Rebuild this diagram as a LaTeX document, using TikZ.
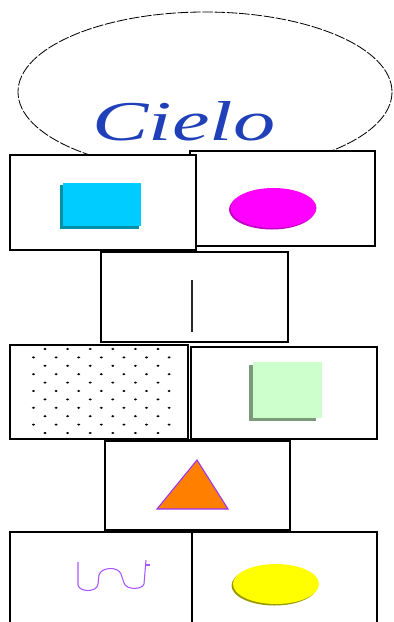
\documentclass[tikz,border=0pt]{standalone}
\usepackage{fontspec}
\setmainfont{Liberation Serif}
\usepackage{tikz}
\usetikzlibrary{calc}
\definecolor{azulcielo}{HTML}{1F40B8}
\definecolor{cian}{HTML}{00CCFF}
\definecolor{cianosc}{HTML}{008FA8}
\definecolor{rosa}{HTML}{FF00FF}
\definecolor{rosaosc}{HTML}{C000C0}
\definecolor{verdeclaro}{HTML}{CCFFCC}
\definecolor{verdeosc}{HTML}{7A9A7A}
\definecolor{naranja}{HTML}{FF8000}
\definecolor{morado}{HTML}{9933FF}
\definecolor{lila}{HTML}{A855FF}
\definecolor{amarillo}{HTML}{FFFF00}
\definecolor{amarilloosc}{HTML}{9A9A00}

\begin{document}
\begin{tikzpicture}[x=0.03cm,y=-0.03cm,
  casilla/.style={draw=black,fill=white,line width=1pt},
  grueso/.style={line width=2.4pt,line cap=rect},
  punto/.style={fill=black}]
\useasboundingbox (0,0) rectangle (393,622);
\clip (0,0) rectangle (393,622);
% ---------- cielo ----------
\draw[line width=0.7pt,dash pattern=on 9pt off 1.5pt] (205,92) ellipse [x radius=187, y radius=80];
\node[text=azulcielo,font=\fontsize{48}{50}\selectfont\itshape,anchor=base,inner sep=0pt] (cielo) at (184,140) {\scalebox{1.5}[1]{Cielo}};
% ---------- fila 1 ----------
\draw[casilla] (190,151) rectangle (375,246);
\draw[grueso] (375,151) -- (375,246);
\draw[casilla] (10,155) rectangle (196,250);
\draw[grueso] (196,155) -- (196,250);
\fill[cianosc] (60,185) rectangle (139,229);
\fill[cian] (63,183) rectangle (141,226);
\fill[rosaosc] (272,209.5) ellipse [x radius=43, y radius=20];
\fill[rosa] (273.5,208) ellipse [x radius=43, y radius=20];
% ---------- fila 2 ----------
\draw[casilla] (101,252) rectangle (288,342);
\draw[grueso] (101,342) -- (101,252) -- (195,252);
\draw[gray!30!black,line width=1.2pt] (192,280) -- (192,332);
% ---------- fila 3 ----------
\draw[casilla] (191,347) rectangle (377,439);
\draw[casilla] (10,345) rectangle (188,439);
\draw[grueso] (188,345) -- (188,439);
\foreach \i in {0,2,...,10}{
  \foreach \j in {0,...,5}{\fill[punto] ({45+22.6*\j},{349+8.4*\i}) ellipse [x radius=1.6, y radius=1.1];}
}
\foreach \i in {1,3,...,9}{
  \foreach \j in {0,...,6}{\fill[punto] ({33.5+22.6*\j},{349+8.4*\i}) ellipse [x radius=1.6, y radius=1.1];}
}
\fill[verdeosc] (249,365) rectangle (316,421);
\fill[verdeclaro] (253,362) rectangle (322,418);
% ---------- fila 4 ----------
\draw[casilla] (105,441) rectangle (290,530);
\draw[grueso] (105,440) -- (290,440);
\filldraw[fill=naranja,draw=morado,line width=0.9pt] (197,460) -- (157,509) -- (228,509) -- cycle;
% ---------- fila 5 ----------
\draw[casilla] (10,532) rectangle (192,640);
\draw[casilla] (192,532) rectangle (377,640);
\draw[lila,line width=0.9pt] (78,562) -- (78,585) .. controls (79,592) and (97,593) .. (98,584)
  -- (99,575) .. controls (101,567) and (118,566) .. (121,574)
  -- (124,583) .. controls (126,590) and (142,590) .. (144,584) -- (146,560);
\draw[lila,line width=0.9pt] (146,565) -- (150,565);
\fill[amarilloosc] (274.5,585.5) ellipse [x radius=43, y radius=20];
\fill[amarillo] (276,584) ellipse [x radius=43, y radius=20];
\end{tikzpicture}
\end{document}
